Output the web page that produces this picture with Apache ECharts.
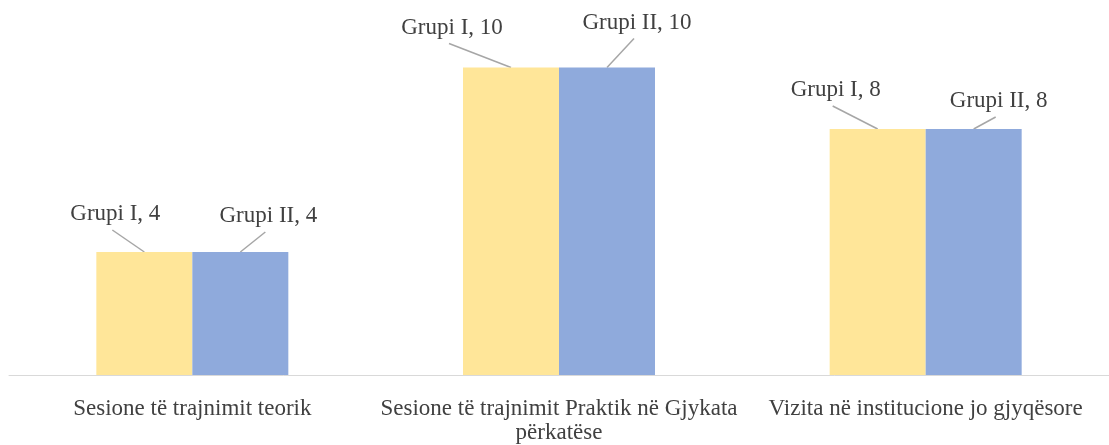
<!DOCTYPE html>
<html>
<head>
<meta charset="utf-8">
<script src="https://cdn.jsdelivr.net/npm/echarts@6/dist/echarts.min.js"></script>
<style>
  html, body { margin: 0; padding: 0; background: #fff; }
  #chart { width: 1109px; height: 445px; }
</style>
</head>
<body>
<div id="chart"></div>
<script>
const categories = [
  'Sesione të trajnimit teorik',
  'Sesione të trajnimit Praktik në Gjykata\npërkatëse',
  'Vizita në institucione jo gjyqësore'
];
const seriesNames = ['Grupi I', 'Grupi II'];
const grupiI = [4, 10, 8];
const grupiII = [4, 10, 8];

// leader line end, relative to the top centre of each bar (px)
const leaderI = [[-32, -22], [-62, -24], [-45, -23]];
const leaderII = [[25, -20], [27, -29], [22, -12]];

const BAR_W = 96;
const myChart = echarts.init(document.getElementById('chart'));

// draws the data label with its leader line, placed from the axis scales
function labelRenderer(name, shifts, side) {
  return function (params, api) {
    const v = api.value(1);
    const p = api.coord([api.value(0), v]);
    const x0 = p[0] + side * BAR_W / 2;
    const s = shifts[params.dataIndex];
    const x1 = x0 + s[0];
    const y1 = p[1] + s[1];
    return {
      type: 'group',
      children: [
        {
          type: 'line',
          shape: { x1: x0, y1: p[1], x2: x1, y2: y1 },
          style: { stroke: '#a6a6a6', lineWidth: 1.5 }
        },
        {
          type: 'text',
          x: x1 + 3,
          y: y1 - 16,
          style: {
            text: name + ', ' + v,
            fontFamily: 'Liberation Serif',
            fontSize: 23,
            fill: '#404040',
            align: 'center',
            verticalAlign: 'middle'
          }
        }
      ]
    };
  };
}

const option = {
  backgroundColor: '#fff',
  animation: false,
  grid: { left: 9, width: 1107, top: 6, bottom: 69 },
  xAxis: {
    type: 'category',
    data: categories,
    axisLine: { lineStyle: { color: '#d9d9d9', width: 1 } },
    axisTick: { show: false },
    axisLabel: {
      fontFamily: 'Liberation Serif',
      fontSize: 23,
      color: '#404040',
      margin: 22,
      lineHeight: 24,
      interval: 0
    }
  },
  yAxis: {
    type: 'value',
    min: 0,
    max: 12,
    show: false,
    splitLine: { show: false }
  },
  series: [
    {
      name: seriesNames[0],
      type: 'bar',
      data: grupiI,
      barWidth: BAR_W,
      barGap: '0%',
      itemStyle: { color: '#FFE699' }
    },
    {
      name: seriesNames[1],
      type: 'bar',
      data: grupiII,
      barWidth: BAR_W,
      barGap: '0%',
      itemStyle: { color: '#8FAADC' }
    },
    {
      type: 'custom',
      silent: true,
      renderItem: labelRenderer(seriesNames[0], leaderI, -1),
      data: grupiI.map(function (v, i) { return [i, v]; })
    },
    {
      type: 'custom',
      silent: true,
      renderItem: labelRenderer(seriesNames[1], leaderII, 1),
      data: grupiII.map(function (v, i) { return [i, v]; })
    }
  ]
};
myChart.setOption(option, true);
window.addEventListener('resize', function () {
  myChart.resize();
});
</script>
</body>
</html>
